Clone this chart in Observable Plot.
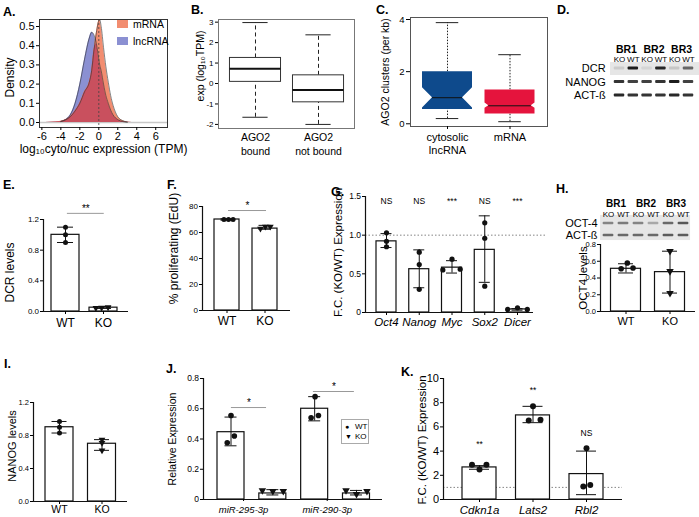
<!DOCTYPE html>
<html><head><meta charset="utf-8">
<script src="https://cdn.jsdelivr.net/npm/d3@7"></script>
<script src="https://cdn.jsdelivr.net/npm/@observablehq/plot@0.6"></script>
<style>
body{margin:0;background:#fff}
#root{position:relative;width:699px;height:517px;overflow:hidden;font-family:"Liberation Sans",Arial,Helvetica,sans-serif;color:#000;background:#fff}
.pl{position:absolute;font-weight:bold;font-size:12.5px;line-height:12.5px}
.ab{position:absolute;white-space:nowrap}
</style></head><body><div id="root"></div>
<script>
// ---------------- DATA ----------------
// A: density of log10 cyto/nuc expression
const aX    = [-6.25,-5,-4,-3.5,-3,-2.5,-2,-1.5,-1,-0.75,-0.5,-0.25,0,0.1,0.25,0.5,0.75,1,1.25,1.5,2,2.5,3,4,5,7.24];
const aMrna = [0,0.001,0.006,0.014,0.03,0.06,0.10,0.16,0.21,0.27,0.38,0.47,0.53,0.535,0.50,0.39,0.29,0.21,0.14,0.09,0.03,0.01,0.003,0,0,0];
const aLnc  = [0,0.001,0.005,0.015,0.04,0.10,0.20,0.33,0.44,0.47,0.455,0.41,0.33,0.30,0.27,0.20,0.14,0.10,0.065,0.04,0.015,0.005,0.001,0,0,0];
const aSeries = ["mRNA","lncRNA"];
const aYTicks = [0,0.1,0.2,0.3,0.4,0.5];
const aXTicks = [-6,-4,-2,0,2,4,6];
// B: boxplots
const bCats = ["AGO2\nbound","AGO2\nnot bound"];
const bLow  = [-1.65,-2.0];
const bQ1   = [0.08,-0.92];
const bMed  = [0.72,-0.32];
const bQ3   = [1.25,0.40];
const bHigh = [2.98,2.38];
const bTicks = [-2,-1,0,1,2,3];
// C: notched boxplots
const cCats = ["cytosolic\nlncRNA","mRNA"];
const cLow  = [0.2,0.08];
const cQ1   = [0.55,0.38];
const cMed  = [1.0,0.69];
const cQ3   = [2.0,1.3];
const cHigh = [3.88,2.65];
const cNotchLo = [0.61,0.60];
const cNotchHi = [1.38,0.80];
const cColors = ["#0e4a8c","#e5143d"];
const cTicks = [0,2,4];
// D: western blot
const dReps  = ["BR1","BR2","BR3"];
const dLanes = ["KO","WT","KO","WT","KO","WT"];
const dRows  = ["DCR","NANOG","ACT-ß"];
const dDCR   = [0.12,0.95,0.08,0.9,0.15,0.6];
const dNANOG = [0.85,0.8,0.8,0.85,0.95,0.8];
const dACT   = [0.9,0.85,0.85,0.85,0.9,0.85];
// E
const eCats = ["WT","KO"];
const eMeans = [1.0,0.05];
const ePoints = [[1.1,1.0,0.9],[0.045,0.05,0.055]];
const eErrLo = [0.9,0.04], eErrHi = [1.1,0.065];
const eTicks = [0,0.4,0.8,1.2];
const eSig = [{x1:0.05,x2:1.02,y:1.28,t:"**"}];
// F
const fCats = ["WT","KO"];
const fMeans = [70,63];
const fPoints = [[70,70,70],[63,64.5,64.5]];
const fErrLo = [69.5,62.5], fErrHi = [70.5,65.5];
const fTicks = [0,20,40,60,80];
const fSig = [{x1:0.04,x2:1.04,y:76.9,t:"*"}];
// G
const gCats = ["Oct4","Nanog","Myc","Sox2","Dicer"];
const gMeans = [0.92,0.56,0.58,0.81,0.04];
const gPoints = [[1.03,0.92,0.85],[0.78,0.62,0.3],[0.55,0.69,0.56],[1.16,0.96,0.34],[0.04,0.06,0.04]];
const gErrLo = [0.84,0.32,0.51,0.39,0.03], gErrHi = [1.02,0.81,0.67,1.25,0.05];
const gSigLabels = ["NS","NS","***","NS","***"];
const gSigY = [1.435,1.435,1.435,1.435,1.435];
const gTicks = [0,0.5,1.0,1.5];
// H
const hReps = ["BR1","BR2","BR3"];
const hLanes = ["KO","WT","KO","WT","KO","WT"];
const hRows = ["OCT-4","ACT-ß"];
const hOCT = [0.55,0.6,0.55,0.35,0.7,0.8];
const hACT = [0.7,0.7,0.7,0.7,0.78,0.78];
const hCats = ["WT","KO"];
const hMeans = [0.51,0.47];
const hPoints = [[0.51,0.58,0.52],[0.72,0.48,0.22]];
const hErrLo = [0.46,0.22], hErrHi = [0.57,0.72];
const hTicks = [0,0.2,0.4,0.6,0.8];
// I
const iCats = ["WT","KO"];
const iMeans = [0.9,0.7];
const iPoints = [[0.97,0.9,0.83],[0.75,0.71,0.62]];
const iErrLo = [0.83,0.62], iErrHi = [0.97,0.75];
const iTicks = [0,0.4,0.8,1.2];
// J
const jCats = ["miR-295-3p","miR-290-3p"];
const jMeans = [0.445,0.04,0.6,0.04];
const jPoints = [[0.375,0.555,0.42],[0.06,0.055,0.055],[0.54,0.68,0.555],[0.06,0.035,0.055]];
const jErrLo = [0.355,0.03,0.52,0.03], jErrHi = [0.545,0.065,0.68,0.06];
const jTicks = [0,0.2,0.4,0.6,0.8];
const jSig = [{x1:0.01,x2:0.85,y:0.608,t:"*"},{x1:1.97,x2:2.95,y:0.714,t:"*"}];
const jLegend = ["WT","KO"];
// K
const kCats = ["Cdkn1a","Lats2","Rbl2"];
const kMeans = [2.65,6.95,2.1];
const kPoints = [[2.87,2.48,2.87],[6.53,7.71,6.6],[4.24,1.07,1.2]];
const kErrLo = [2.5,6.35,0.4], kErrHi = [2.8,7.7,4.0];
const kSigLabels = ["**","**","NS"];
const kSigY = [4.55,9.0,5.45];
const kTicks = [0,2,4,6,8,10];

// ---------------- HELPERS ----------------
const FONT = '"Liberation Sans", Arial, Helvetica, sans-serif';
const root = document.getElementById("root");
function place(node, left, top) {
  const div = document.createElement("div");
  div.style.cssText = `position:absolute;left:${left}px;top:${top}px;`;
  node.style.background = "transparent";
  node.style.overflow = "visible";
  node.style.maxWidth = "none";
  div.appendChild(node);
  root.appendChild(div);
}
function addHtml(cls, css, text) {
  const el = document.createElement("div");
  el.className = cls; el.style.cssText = css; el.textContent = text;
  root.appendChild(el); return el;
}
function sty(fs) { return {fontFamily: FONT, fontSize: fs + "px", background: "transparent", overflow: "visible", color: "#000"}; }
const triDown = {draw(c, size) {
  const y = -Math.sqrt(size / (Math.sqrt(3) * 3));
  c.moveTo(0, -y * 2); c.lineTo(Math.sqrt(3) * y, y); c.lineTo(-Math.sqrt(3) * y, y); c.closePath();
}};
function yLabel(text, dx, dy, fs) {
  return Plot.text([text], {frameAnchor: "left", textAnchor: "middle", lineAnchor: "middle", dx, dy, rotate: -90, fontSize: fs, text: d => d});
}
// multi-line category labels drawn one line per text mark
function catLines(cats, pos, dy0, lineGap, fs) {
  const lines = cats.map(c => c.split("\n"));
  const maxL = d3.max(lines, l => l.length);
  const marks = [];
  for (let k = 0; k < maxL; k++) {
    const data = lines.map((l, i) => ({x: pos[i], t: l[k] ?? ""})).filter(d => d.t);
    marks.push(Plot.text(data, {x: "x", text: "t", frameAnchor: "bottom", textAnchor: "middle", lineAnchor: "top", dy: dy0 + k * lineGap, fontSize: fs}));
  }
  return marks;
}

function barPanel(o) {
  const lo = (o.axisPx - o.c0) / o.sp, hi = (o.endPx - o.c0) / o.sp;
  const hw = o.barPx / 2 / o.sp, cap = o.capPx / o.sp;
  const rows = o.means.map((m, i) => ({i, m, lo: o.errLo[i], hi: o.errHi[i]}));
  const pts = o.points.flatMap((arr, i) => arr.map((v, j) => ({x: i + o.offsets[i][j], v, tri: o.symbols[i] === "tri"})));
  const marks = [];
  if (o.ref != null) marks.push(Plot.ruleY([o.ref], {x1: lo, x2: (o.refEndPx - o.c0) / o.sp, stroke: "#777", strokeWidth: 0.9, strokeDasharray: "1.5,2"}));
  marks.push(
    Plot.rectY(rows, {x1: d => d.i - hw, x2: d => d.i + hw, y1: 0, y2: "m", fill: "#fff", stroke: "#111", strokeWidth: 1.2}),
    Plot.ruleX(rows, {x: "i", y1: "lo", y2: "hi", stroke: "#111", strokeWidth: 1}),
    Plot.ruleY(rows, {y: "lo", x1: d => d.i - cap, x2: d => d.i + cap, stroke: "#111", strokeWidth: 1}),
    Plot.ruleY(rows, {y: "hi", x1: d => d.i - cap, x2: d => d.i + cap, stroke: "#111", strokeWidth: 1}),
    Plot.dot(pts.filter(d => !d.tri), {x: "x", y: "v", r: o.r, fill: "#111"}),
    Plot.dot(pts.filter(d => d.tri), {x: "x", y: "v", r: o.r, fill: "#111", symbol: triDown}),
    Plot.ruleY([0], {stroke: "#111", strokeWidth: 1.2}),
    Plot.ruleX([lo], {y1: 0, y2: o.yMax, stroke: "#111", strokeWidth: 1.2}),
    Plot.axisY({ticks: o.ticks, tickFormat: o.fmt, tickSize: 3, tickPadding: 1.5, label: null}),
    Plot.axisX({ticks: o.catPos, tickFormat: () => "", tickSize: o.catTick ?? 3, label: null}),
    Plot.text(o.cats, {x: (d, i) => o.catPos[i], frameAnchor: "bottom", textAnchor: "middle", dy: o.catDy, lineAnchor: "top", fontSize: o.catFont, fontStyle: o.italic ? "italic" : "normal", text: d => d}),
    yLabel(o.ylabel, o.ylDx, o.ylDy, o.ylFont)
  );
  if (o.sig) marks.push(
    Plot.ruleY(o.sig, {y: "y", x1: "x1", x2: "x2", stroke: "#999", strokeWidth: 1}),
    Plot.text(o.sig, {x: d => (d.x1 + d.x2) / 2, y: "y", text: "t", dy: -5, fontSize: 10})
  );
  if (o.sigLabels) marks.push(Plot.text(o.sigLabels, {x: (d, i) => i, y: (d, i) => o.sigY[i], text: d => d, fontSize: o.sigFont}));
  const p = Plot.plot({
    width: o.width, height: o.height,
    marginLeft: o.axisPx - o.left, marginRight: o.left + o.width - o.endPx,
    marginTop: o.yTopPx - o.top, marginBottom: o.top + o.height - o.y0Px,
    x: {domain: [lo, hi]}, y: {domain: [0, o.yMax]},
    style: sty(o.tickFont),
    marks
  });
  place(p, o.left, o.top);
}

function blotPanel(o) {
  const bands = o.intensity.flatMap((arr, r) => arr.map((v, i) => ({r, i, v})));
  const p = Plot.plot({
    width: o.width, height: o.height, margin: 0,
    x: {domain: [0, 5], range: o.xRange, axis: null},
    y: {domain: [0, o.rows.length - 1], range: o.yRange, axis: null},
    style: sty(8),
    marks: [
      Plot.rect([0], {x1: o.bg[0], x2: o.bg[1], y1: o.bg[2], y2: o.bg[3], fill: "#e6e6e6"}),
      Plot.rect(bands, {x1: d => d.i - o.bw, x2: d => d.i + o.bw, y1: d => d.r - o.bh, y2: d => d.r + o.bh, fill: o.bandColor, fillOpacity: d => d.v, rx: 1}),
      Plot.text(o.rows, {x: o.labelX, y: (d, i) => i, text: d => d, textAnchor: "end", fontSize: o.rowFont}),
      Plot.text(o.reps, {x: (d, i) => 2 * i + 0.5, frameAnchor: "top", textAnchor: "middle", dy: o.repDy, text: d => d, fontWeight: "bold", fontSize: o.repFont}),
      Plot.text(o.lanes, {x: (d, i) => i, frameAnchor: "top", textAnchor: "middle", dy: o.laneDy, text: d => d, fontSize: o.laneFont})
    ]
  });
  place(p, o.left, o.top);
}

// ---------------- PANEL A ----------------
{
  const MR = "#f28d70", LN = "#8b90d2", OV = "#c9505e";
  const rows = aX.map((x, i) => ({x, m: aMrna[i], l: aLnc[i]}));
  const inner = rows.filter(d => d.x >= -4.5 && d.x <= 3.5);
  const curve = "monotone-x";
  const p = Plot.plot({
    width: 172, height: 165, marginLeft: 39, marginRight: 5, marginTop: 19, marginBottom: 38,
    x: {domain: [-6.25, 7.24]}, y: {domain: [-0.026, 0.5365]},
    style: sty(11),
    marks: [
      Plot.ruleY([0], {stroke: "#c8c8c8", strokeWidth: 1.5}),
      Plot.areaY(rows, {x: "x", y: "l", fill: LN, curve}),
      Plot.areaY(rows, {x: "x", y: "m", fill: MR, curve}),
      Plot.areaY(rows, {x: "x", y: d => Math.min(d.m, d.l), fill: OV, curve}),
      Plot.lineY(inner, {x: "x", y: "l", stroke: "#333", strokeWidth: 0.6, curve}),
      Plot.lineY(inner, {x: "x", y: "m", stroke: "#333", strokeWidth: 0.6, curve}),
      Plot.ruleX([0], {stroke: "#444", strokeWidth: 0.8, strokeDasharray: "2,2"}),
      Plot.frame({stroke: "#333"}),
      Plot.axisY({ticks: aYTicks, tickFormat: d => d.toFixed(1), tickSize: 3, tickPadding: 2, label: null}),
      Plot.axisX({ticks: aXTicks, tickFormat: d => String(d), tickSize: 3, tickPadding: 2, label: null}),
      yLabel("Density", -29, 4, 12),
      Plot.text(["log₁₀cyto/nuc expression (TPM)"], {frameAnchor: "bottom", textAnchor: "middle", dy: 25, fontSize: 12, text: d => d})
    ]
  });
  place(p, 0, 0);
  // legend
  const cols = [MR, LN];
  aSeries.forEach((s, i) => {
    addHtml("ab", `left:117px;top:${20 + 17 * i}px;width:11px;height:8px;background:${cols[i]};`, "");
    addHtml("ab", `left:133px;top:${18 + 17 * i}px;font-size:10.5px;line-height:12px;`, s);
  });
}

// ---------------- PANEL B ----------------
{
  const rows = bCats.map((c, i) => ({i: i + 1, lo: bLow[i], q1: bQ1[i], med: bMed[i], q3: bQ3[i], hi: bHigh[i]}));
  const hw = 0.405, cw = 0.2;
  const p = Plot.plot({
    width: 185, height: 165, marginLeft: 43, marginRight: 6, marginTop: 19, marginBottom: 37,
    x: {domain: [0.413, 2.571], axis: null}, y: {domain: [-2.2, 3.13]},
    style: sty(8),
    marks: [
      Plot.ruleX(rows, {x: "i", y1: "q3", y2: "hi", stroke: "#222", strokeDasharray: "4,3"}),
      Plot.ruleX(rows, {x: "i", y1: "lo", y2: "q1", stroke: "#222", strokeDasharray: "4,3"}),
      Plot.ruleY(rows, {y: "hi", x1: d => d.i - cw, x2: d => d.i + cw, stroke: "#222"}),
      Plot.ruleY(rows, {y: "lo", x1: d => d.i - cw, x2: d => d.i + cw, stroke: "#222"}),
      Plot.rect(rows, {x1: d => d.i - hw, x2: d => d.i + hw, y1: "q1", y2: "q3", fill: "#fff", stroke: "#333"}),
      Plot.ruleY(rows, {y: "med", x1: d => d.i - hw, x2: d => d.i + hw, stroke: "#111", strokeWidth: 2}),
      Plot.frame({stroke: "#777"}),
      Plot.axisY({ticks: bTicks, tickFormat: d => String(d), tickSize: 3, tickPadding: 2, label: null}),
      ...catLines(bCats, [1, 2], 5, 14, 10.5),
      yLabel("exp (log₁₀TPM)", -18, -8, 10.5)
    ]
  });
  place(p, 175, 0);
}

// ---------------- PANEL C ----------------
{
  const hw = 0.4, cw = 0.18, indent = [0.16, 0.06];
  const rows = cCats.map((c, i) => ({i: i + 1, lo: cLow[i], q1: cQ1[i], med: cMed[i], q3: cQ3[i], hi: cHigh[i]}));
  const shapes = cCats.map((c, i) => [
    {y: cQ1[i], w: hw}, {y: cNotchLo[i], w: hw}, {y: cMed[i], w: hw - indent[i]}, {y: cNotchHi[i], w: hw}, {y: cQ3[i], w: hw}
  ].map(d => ({...d, i: i + 1})));
  const p = Plot.plot({
    width: 200, height: 165, marginLeft: 60, marginRight: 3, marginTop: 17, marginBottom: 39,
    x: {domain: [0.408, 2.6]}, y: {domain: [-0.104, 4.077]},
    style: sty(9.5),
    marks: [
      Plot.ruleX(rows, {x: "i", y1: "q3", y2: "hi", stroke: "#222", strokeDasharray: "1.5,1.5"}),
      Plot.ruleX(rows, {x: "i", y1: "lo", y2: "q1", stroke: "#222", strokeDasharray: "1.5,1.5"}),
      Plot.ruleY(rows, {y: "hi", x1: d => d.i - cw, x2: d => d.i + cw, stroke: "#222"}),
      Plot.ruleY(rows, {y: "lo", x1: d => d.i - cw, x2: d => d.i + cw, stroke: "#222"}),
      ...shapes.map((s, i) => Plot.areaX(s, {y: "y", x1: d => d.i - d.w, x2: d => d.i + d.w, fill: cColors[i], curve: "linear"})),
      Plot.ruleY(rows, {y: "med", x1: (d, k) => d.i - hw + indent[k], x2: (d, k) => d.i + hw - indent[k], stroke: "#111", strokeWidth: 1}),
      Plot.frame({stroke: "#555"}),
      Plot.axisY({ticks: cTicks, tickFormat: d => String(d), tickSize: 4, tickPadding: 2, label: null}),
      Plot.axisX({ticks: [1, 2], tickFormat: () => "", tickSize: 3, label: null}),
      ...catLines(cCats, [1, 2], 6.5, 13.3, 11),
      yLabel("AGO2 clusters (per kb)", -25, 0, 10.5)
    ]
  });
  place(p, 350, 0);
}

// ---------------- PANEL D (blot) ----------------
blotPanel({left: 555, top: 30, width: 144, height: 75, xRange: [64, 133], yRange: [38, 65],
  rows: dRows, intensity: [dDCR, dNANOG, dACT], reps: dReps, lanes: dLanes,
  bg: [-0.65, 5.87, -0.44, 0.52], bw: 0.38, bh: 0.12, bandColor: "#111", labelX: -1.0,
  rowFont: 11, repDy: 15, laneDy: 26, repFont: 10.5, laneFont: 8});

// ---------------- PANEL E ----------------
barPanel({left: 0, top: 175, width: 140, height: 160, axisPx: 43, endPx: 128, y0Px: 311, yTopPx: 219, yMax: 1.2,
  c0: 65, sp: 38, barPx: 28, capPx: 8, r: 2.5,
  means: eMeans, points: ePoints, offsets: [[0, 0, 0], [-0.2, -0.05, 0.12]], symbols: ["dot", "tri"],
  errLo: eErrLo, errHi: eErrHi, ticks: eTicks, fmt: d => d.toFixed(1), tickFont: 8,
  cats: eCats, catPos: [0, 1], catFont: 12, catDy: 6.7,
  ylabel: "DCR levels", ylDx: -33, ylDy: 7, ylFont: 12, sig: eSig});

// ---------------- PANEL F ----------------
barPanel({left: 165, top: 175, width: 135, height: 160, axisPx: 202, endPx: 290, y0Px: 310, yTopPx: 206, yMax: 80,
  c0: 226.5, sp: 38, barPx: 25, capPx: 6, r: 2.5,
  means: fMeans, points: fPoints, offsets: [[-0.08, 0.04, 0.16], [-0.12, 0.01, 0.14]], symbols: ["dot", "tri"],
  errLo: fErrLo, errHi: fErrHi, ticks: fTicks, fmt: d => String(d), tickFont: 8,
  cats: fCats, catPos: [0, 1], catFont: 12, catDy: 5.7,
  ylabel: "% proliferating (EdU)", ylDx: -28, ylDy: -10, ylFont: 12, sig: fSig});

// ---------------- PANEL G ----------------
barPanel({left: 325, top: 175, width: 225, height: 160, axisPx: 365, endPx: 533, y0Px: 312, yTopPx: 196, yMax: 1.5,
  c0: 386, sp: 32.75, barPx: 20, capPx: 5.5, r: 2.6,
  means: gMeans, points: gPoints, offsets: [[0, 0, 0], [0, 0, 0], [-0.28, 0, 0.25], [0, 0, 0], [-0.3, 0, 0.3]],
  symbols: ["dot", "dot", "dot", "dot", "dot"],
  errLo: gErrLo, errHi: gErrHi, ticks: gTicks, fmt: d => d === 0 ? "0" : d.toFixed(1), tickFont: 8.5,
  cats: gCats, catPos: [0, 1, 2, 3, 4], catFont: 11.5, catDy: 4.9, italic: true,
  ylabel: "F.C. (KO/WT) Expression", ylDx: -27, ylDy: -2, ylFont: 11.5,
  ref: 1, refEndPx: 545, sigLabels: gSigLabels, sigY: gSigY, sigFont: 8.5});

// ---------------- PANEL H ----------------
blotPanel({left: 555, top: 185, width: 144, height: 57, xRange: [53, 128], yRange: [38, 50],
  rows: hRows, intensity: [hOCT, hACT], reps: hReps, lanes: hLanes,
  bg: [-0.53, 5.47, -0.67, 1.42], bw: 0.36, bh: 0.11, bandColor: "#333", labelX: -0.73,
  rowFont: 11, repDy: 14.5, laneDy: 25.5, repFont: 10, laneFont: 8});
barPanel({left: 560, top: 238, width: 139, height: 97, axisPx: 600, endPx: 695, y0Px: 311, yTopPx: 244, yMax: 0.8,
  c0: 625.5, sp: 44, barPx: 30, capPx: 7.5, r: 2.8,
  means: hMeans, points: hPoints, offsets: [[-0.11, 0.03, 0.16], [0, 0, 0]], symbols: ["dot", "tri"],
  errLo: hErrLo, errHi: hErrHi, ticks: hTicks, fmt: d => d.toFixed(1), tickFont: 7.5,
  cats: hCats, catPos: [0, 1], catFont: 11, catDy: 5.7,
  ylabel: "OCT4 levels", ylDx: -17, ylDy: 0, ylFont: 11.5});

// ---------------- PANEL I ----------------
barPanel({left: 0, top: 345, width: 140, height: 172, axisPx: 33, endPx: 127, y0Px: 501, yTopPx: 402, yMax: 1.2,
  c0: 59, sp: 42.5, barPx: 28, capPx: 7.5, r: 2.5,
  means: iMeans, points: iPoints, offsets: [[0, 0, 0], [0, 0, 0]], symbols: ["dot", "tri"],
  errLo: iErrLo, errHi: iErrHi, ticks: iTicks, fmt: d => d.toFixed(1), tickFont: 7.5,
  cats: iCats, catPos: [0, 1], catFont: 10.5, catDy: 4.5,
  ylabel: "NANOG levels", ylDx: -21, ylDy: -6, ylFont: 11});

// ---------------- PANEL J ----------------
barPanel({left: 160, top: 345, width: 225, height: 172, axisPx: 203, endPx: 382, y0Px: 499, yTopPx: 378, yMax: 0.8,
  c0: 230.5, sp: 41.83, barPx: 27, capPx: 6, r: 2.8,
  means: jMeans, points: jPoints, offsets: [[-0.09, 0, 0.08], [-0.25, 0, 0.25], [-0.085, 0.01, 0.09], [-0.25, 0, 0.25]],
  symbols: ["dot", "tri", "dot", "tri"],
  errLo: jErrLo, errHi: jErrHi, ticks: jTicks, fmt: d => d === 0 ? "0" : d.toFixed(1), tickFont: 8.5,
  cats: jCats, catPos: [0.3, 2.3], catFont: 9.5, catDy: 7, italic: true, catTick: 2,
  ylabel: "Relative Expression", ylDx: -31, ylDy: 0, ylFont: 10.5, sig: jSig});
// J legend
{
  addHtml("ab", "left:341px;top:419px;width:28px;height:25px;border:1px solid #aaa;box-sizing:border-box;", "");
  const syms = ["●", "▼"];
  jLegend.forEach((s, i) => {
    addHtml("ab", `left:345px;top:${422 + 10 * i}px;font-size:7px;line-height:9px;`, syms[i]);
    addHtml("ab", `left:355px;top:${422 + 10 * i}px;font-size:8px;line-height:9px;`, s);
  });
}

// ---------------- PANEL K ----------------
barPanel({left: 395, top: 345, width: 235, height: 172, axisPx: 443, endPx: 622, y0Px: 499, yTopPx: 378, yMax: 10,
  c0: 479, sp: 53.5, barPx: 34, capPx: 10, r: 3,
  means: kMeans, points: kPoints, offsets: [[-0.14, 0, 0.13], [-0.08, 0, 0.14], [0, -0.06, 0.07]],
  symbols: ["dot", "dot", "dot"],
  errLo: kErrLo, errHi: kErrHi, ticks: kTicks, fmt: d => String(d), tickFont: 11,
  cats: kCats, catPos: [0, 1, 2], catFont: 11.5, catDy: 6.2, italic: true,
  ylabel: "F.C. (KO/WT) Expression", ylDx: -21, ylDy: 1, ylFont: 11.5,
  ref: 1, refEndPx: 622, sigLabels: kSigLabels, sigY: kSigY, sigFont: 8.5});

// ---------------- PANEL LETTERS ----------------
const letters = [["A.", 3, 6], ["B.", 191, 4], ["C.", 376, 4], ["D.", 557, 4], ["E.", 3, 179], ["F.", 167, 179],
  ["G.", 331, 186], ["H.", 556, 183], ["I.", 4, 358], ["J.", 166, 363], ["K.", 401, 366]];
letters.forEach(([t, x, y]) => addHtml("pl", `left:${x}px;top:${y}px;`, t));
</script></body></html>
